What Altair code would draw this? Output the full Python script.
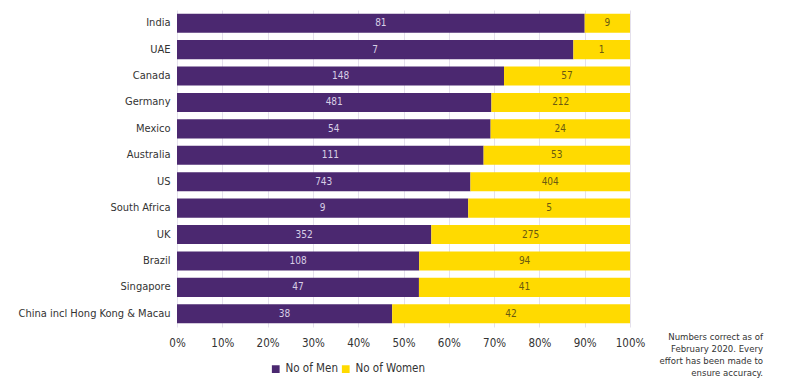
import altair as alt
import pandas as pd

countries = ["India", "UAE", "Canada", "Germany", "Mexico", "Australia", "US",
             "South Africa", "UK", "Brazil", "Singapore", "China incl Hong Kong & Macau"]
men = [81, 7, 148, 481, 54, 111, 743, 9, 352, 108, 47, 38]
women = [9, 1, 57, 212, 24, 53, 404, 5, 275, 94, 41, 42]
series = ["No of Men", "No of Women"]
colors = ["#4B2870", "#FFDA00"]
note_lines = ["Numbers correct as of", "February 2020. Every", "effort has been made to", "ensure accuracy."]

rows = []
for c, m, w in zip(countries, men, women):
    rows.append({"country": c, "series": series[0], "value": m, "order": 0})
    rows.append({"country": c, "series": series[1], "value": w, "order": 1})
df = pd.DataFrame(rows)

FONT = "Liberation Sans Narrow, DejaVu Sans Condensed, sans-serif"

base = alt.Chart(df).transform_stack(
    stack="value", groupby=["country"], as_=["x0", "x1"], offset="normalize",
    sort=[alt.SortField("order")]
).transform_calculate(mid="(datum.x0 + datum.x1) / 2")

y = alt.Y("country:N", sort=countries, title=None,
          scale=alt.Scale(paddingInner=0.28, paddingOuter=0.14),
          axis=alt.Axis(domain=False, ticks=False, labelPadding=7, labelFontSize=11,
                        labelColor="#333333", labelFont=FONT, grid=False, labelLimit=200))

bars = base.mark_bar().encode(
    x=alt.X("x0:Q", title=None, scale=alt.Scale(domain=[0, 1], nice=False),
            axis=alt.Axis(format=".0%", values=[i / 10 for i in range(11)],
                          domain=False, ticks=False, labelPadding=10, labelFontSize=11.5,
                          labelColor="#333333", labelFont=FONT,
                          grid=True, gridColor="#e4e0ec", labelFlush=False)),
    x2="x1:Q",
    y=y,
    color=alt.Color("series:N", scale=alt.Scale(domain=series, range=colors),
                    legend=alt.Legend(title=None, orient="none", direction="horizontal",
                                      legendX=93, legendY=353, symbolType="square",
                                      symbolSize=60, labelFontSize=11.5, labelFont=FONT,
                                      labelColor="#333333", columnPadding=2,
                                      symbolStrokeWidth=0)),
)

labels = base.mark_text(fontSize=10, font=FONT).encode(
    x="mid:Q",
    y=alt.Y("country:N", sort=countries),
    text="value:Q",
    color=alt.Color("series:N", scale=alt.Scale(domain=series, range=["#d8cfe6", "#6b5a10"]),
                    legend=None),
)

note_df = pd.DataFrame({"t": [note_lines]})
note = alt.Chart(note_df).mark_text(
    align="right", baseline="top", fontSize=9.5, font=FONT, color="#333333", lineHeight=12
).encode(x=alt.value(586), y=alt.value(322), text="t")

chart = alt.layer(bars, labels, note).resolve_scale(color="independent").properties(
    width=453, height=317,
    autosize=alt.AutoSizeParams(type="none"),
    padding={"left": 169, "top": 2, "right": 160, "bottom": 51},
).configure_view(stroke=None)

chart.save("out.html", embed_options={"renderer": "svg", "actions": False})
